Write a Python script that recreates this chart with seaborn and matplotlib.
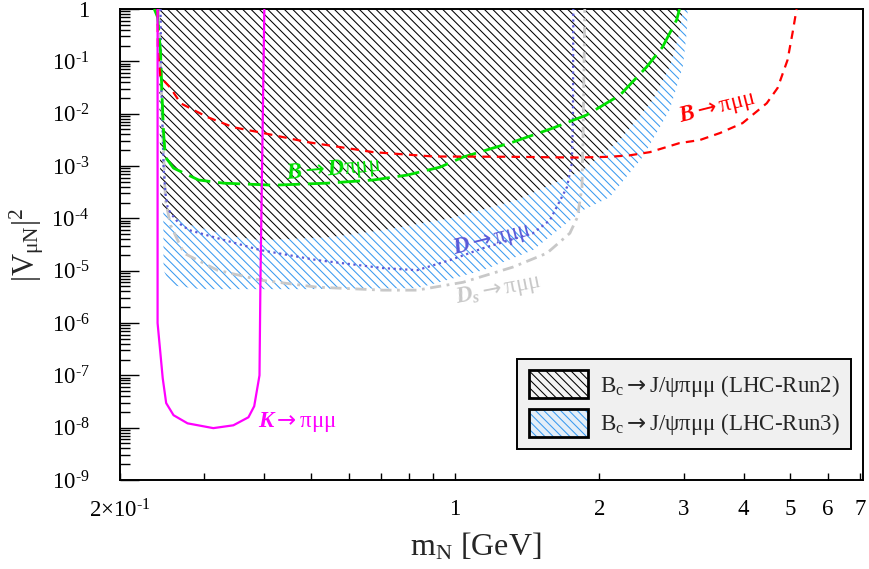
import numpy as np
import pandas as pd
import matplotlib
matplotlib.use("Agg")
import matplotlib.pyplot as plt
import seaborn as sns
from matplotlib.patches import Rectangle
from matplotlib.legend_handler import HandlerTuple
from matplotlib.ticker import FixedLocator, FixedFormatter, NullFormatter, LogLocator

# ---------------- data ----------------
# K -> pi mu mu (solid magenta)
k_x = [0.2395, 0.2395, 0.2455, 0.2496, 0.2586, 0.2766, 0.313, 0.3447, 0.3706, 0.381, 0.3908, 0.3926, 0.400]
k_y = [1.0, 1e-6, 8.8e-8, 2.95e-8, 1.73e-8, 1.21e-8, 9.8e-9, 1.11e-8, 1.58e-8, 2.57e-8, 1.0e-7, 6.6e-6, 1.0]

# B -> pi mu mu (red dashed)
b_x = [0.2395, 0.2398, 0.2428, 0.2549, 0.2675, 0.3043, 0.3447, 0.398, 0.492, 0.675, 0.90, 1.3, 1.8,
       2.1, 2.315, 2.55, 2.94, 3.24, 3.57, 3.98, 4.47, 4.71, 4.94, 5.06, 5.16]
b_y = [1.0, 0.164, 0.05, 0.031, 0.0158, 8.6e-3, 5.5e-3, 4.26e-3, 2.86e-3, 1.84e-3, 1.52e-3, 1.5e-3, 1.45e-3,
       1.5e-3, 1.6e-3, 1.84e-3, 2.74e-3, 3.13e-3, 4.26e-3, 6.6e-3, 1.58e-2, 0.031, 0.106, 0.348, 1.0]

# B -> D pi mu mu (green long dashed)
bd_x = [0.2357, 0.2395, 0.2428, 0.2449, 0.2465, 0.2487, 0.2586, 0.2917, 0.3288, 0.418, 0.5412, 0.675,
        0.794, 0.93, 1.039, 1.32, 1.60, 1.88, 2.21, 2.51, 2.71, 2.90, 2.94]
bd_y = [1.0, 0.70, 0.164, 0.018, 4.3e-3, 1.48e-3, 9.1e-4, 5.4e-4, 4.7e-4, 4.3e-4, 4.7e-4, 5.4e-4,
        6.7e-4, 9.5e-4, 1.48e-3, 2.86e-3, 5.3e-3, 9.4e-3, 2.27e-2, 7.8e-2, 0.188, 0.62, 1.0]

# D -> pi mu mu (blue dotted)
d_x = [0.2430, 0.2438, 0.2465, 0.2487, 0.2513, 0.2549, 0.2651, 0.2789, 0.3193, 0.3926, 0.5157, 0.708,
       0.833, 0.976, 1.144, 1.454, 1.577, 1.712, 1.753, 1.762, 1.765]
d_y = [1.0, 0.035, 9.5e-4, 3.0e-4, 1.64e-4, 1.26e-4, 8.1e-5, 5.95e-5, 4.18e-5, 2.47e-5, 1.59e-5, 1.12e-5,
       1.02e-5, 1.59e-5, 2.69e-5, 5.2e-5, 9.2e-5, 3.95e-4, 1.14e-3, 8.6e-3, 1.0]

# Ds -> pi mu mu (gray dash-dot)
ds_x = [0.2405, 0.2452, 0.2487, 0.2549, 0.2718, 0.3193, 0.3926, 0.5157, 0.708, 0.833, 1.039, 1.32,
        1.555, 1.736, 1.80, 1.84, 1.85, 1.865]
ds_y = [1.0, 6.6e-3, 2.23e-4, 7.4e-5, 2.16e-5, 1.02e-5, 6.6e-6, 4.84e-6, 4.24e-6, 4.24e-6, 6.0e-6, 1.17e-5,
        2.16e-5, 5.2e-5, 1.05e-4, 3.95e-4, 4.26e-3, 1.0]

# Bc -> J/psi pi mu mu sensitivity regions (lower boundaries, region extends up to |V|^2 = 1)
run2_x = [0.2405, 0.2428, 0.2465, 0.2718, 0.340, 0.3926, 0.549, 0.708, 0.976, 1.346, 1.848, 2.207,
          2.584, 2.803, 2.94, 2.986]
run2_y = [1.0, 2.78e-4, 1.43e-4, 8.1e-5, 4.57e-5, 3.83e-5, 4.37e-5, 5.95e-5, 1.0e-4, 2.23e-4, 8.35e-4,
          3.13e-3, 1.82e-2, 7.8e-2, 0.348, 1.0]
run3_x = [0.2452, 0.2465, 0.2549, 0.2942, 0.4757, 0.833, 1.144, 1.454, 1.848, 2.103, 2.463, 2.803,
          2.986, 3.043, 3.058]
run3_y = [1.0, 1.02e-5, 5.3e-6, 4.43e-6, 4.43e-6, 4.62e-6, 1.02e-5, 2.47e-5, 1.43e-4, 2.54e-4, 1.48e-3,
          1.17e-2, 7.8e-2, 0.348, 1.0]

ARROW = "\\mathsf{\\rightarrow}"
x_ticks = [0.2, 1, 2, 3, 4, 5, 6, 7]
x_tick_labels = ["2×10$^{\\text{-1}}$", "1", "2", "3", "4", "5", "6", "7"]
y_ticks = [1e-9, 1e-8, 1e-7, 1e-6, 1e-5, 1e-4, 1e-3, 1e-2, 1e-1, 1]
y_tick_labels = ["10$^{\\text{-%d}}$" % k for k in range(9, 0, -1)] + ["1"]
legend_labels = ["B$_\\mathrm{c}" + ARROW + "$J/ψπμμ (LHC-Run2)",
                 "B$_\\mathrm{c}" + ARROW + "$J/ψπμμ (LHC-Run3)"]

# ---------------- style ----------------
sns.set_style("ticks")
plt.rcParams.update({
    "font.family": ["Liberation Serif", "DejaVu Serif"],
    "mathtext.fontset": "custom",
    "mathtext.rm": "Liberation Serif",
    "mathtext.it": "Liberation Serif:italic:bold",
    "mathtext.bf": "Liberation Serif:bold",
    "mathtext.sf": "DejaVu Sans",
    "hatch.linewidth": 0.75,
    "axes.linewidth": 1.4,
})

fig = plt.figure(figsize=(8.7, 5.69), dpi=100)
ax = fig.add_axes([0.138, 0.1564, 0.854, 0.8278])
ax.set_xscale("log")
ax.set_yscale("log")
ax.set_xlim(0.2, 7.1)
ax.set_ylim(1e-9, 1)

BLUE_HATCH = "#3a9af0"
HATCH = "\\\\\\\\"

# hatched regions
ax.fill(run3_x + [run3_x[0]], run3_y + [run3_y[0]], facecolor="none", edgecolor=BLUE_HATCH,
        hatch=HATCH, linewidth=0, zorder=1)
ax.fill(run2_x + [run2_x[0]], run2_y + [run2_y[0]], facecolor="white", edgecolor="black",
        hatch=HATCH, linewidth=0, zorder=2)

# curves
sns.lineplot(x=ds_x, y=ds_y, sort=False, estimator=None, color="#c8c8c8", lw=2.0,
             linestyle=(0, (4, 2, 1, 2)), ax=ax, zorder=3)
sns.lineplot(x=d_x, y=d_y, sort=False, estimator=None, color="#5a5ad8", lw=1.6,
             linestyle=(0, (1, 1.6)), ax=ax, zorder=4)
sns.lineplot(x=bd_x, y=bd_y, sort=False, estimator=None, color="#00e000", lw=2.0,
             linestyle=(0, (8, 2.8)), ax=ax, zorder=5)
sns.lineplot(x=b_x, y=b_y, sort=False, estimator=None, color="#ff0000", lw=1.6,
             linestyle=(0, (3.8, 2.8)), ax=ax, zorder=6)
sns.lineplot(x=k_x, y=k_y, sort=False, estimator=None, color="#ff00ff", lw=1.6,
             linestyle="-", ax=ax, zorder=7)

# curve labels
lab_fs = 16.5
ax.text(3.53, 1.28e-2, "$B" + ARROW + "$πμμ", color="#ff0000", fontsize=lab_fs, rotation=14,
        ha="center", va="center", zorder=8)
ax.text(0.557, 8.35e-4, "$B" + ARROW + "D$πμμ", color="#00e000", fontsize=lab_fs, rotation=5,
        ha="center", va="center", zorder=8)
ax.text(1.194, 3.83e-5, "$D" + ARROW + "$πμμ", color="#5a5ad8", fontsize=lab_fs, rotation=14,
        ha="center", va="center", zorder=8)
ax.text(1.229, 4.24e-6, "$D_s" + ARROW + "$πμμ", color="#c8c8c8", fontsize=lab_fs, rotation=11,
        ha="center", va="center", zorder=8)
ax.text(0.469, 1.27e-8, "$K" + ARROW + "$πμμ", color="#ff00ff", fontsize=lab_fs, rotation=0,
        ha="center", va="center", zorder=8)

# ticks
ax.xaxis.set_major_locator(FixedLocator(x_ticks))
ax.xaxis.set_major_formatter(FixedFormatter(x_tick_labels))
ax.xaxis.set_minor_locator(FixedLocator([0.3, 0.4, 0.5, 0.6, 0.7, 0.8, 0.9]))
ax.xaxis.set_minor_formatter(NullFormatter())
ax.yaxis.set_major_locator(FixedLocator(y_ticks))
ax.yaxis.set_major_formatter(FixedFormatter(y_tick_labels))
ax.yaxis.set_minor_locator(LogLocator(base=10, subs=np.arange(2, 10), numticks=30))
ax.yaxis.set_minor_formatter(NullFormatter())
ax.tick_params(axis="both", which="both", direction="in", top=False, right=False,
               labelsize=16.5, width=1.0, colors="black")
ax.tick_params(axis="y", which="major", length=14, pad=22)
ax.tick_params(axis="y", which="minor", length=7)
ax.tick_params(axis="x", which="both", length=5, pad=14)

for s in ax.spines.values():
    s.set_visible(True)
    s.set_linewidth(1.4)
    s.set_color("black")

ax.set_xlabel("m$_\\mathrm{N}$ [GeV]", fontsize=23)
ax.xaxis.set_label_coords(0.478, -0.108)
ax.set_ylabel("$|\\mathrm{V}_{\\mathrm{μN}}|^{2}$", fontsize=22)
ax.yaxis.set_label_coords(-0.100, 0.5)

# legend
h2 = Rectangle((0, 0), 1, 1, facecolor="#f4f4f4", edgecolor="black", hatch=HATCH, linewidth=2)
h3a = Rectangle((0, 0), 1, 1, facecolor="#e4eef8", edgecolor=BLUE_HATCH, hatch=HATCH, linewidth=0)
h3b = Rectangle((0, 0), 1, 1, facecolor="none", edgecolor="black", linewidth=2)
leg = ax.legend([h2, (h3a, h3b)], legend_labels, handler_map={tuple: HandlerTuple(ndivide=1, pad=0)},
                loc="lower right", bbox_to_anchor=(0.984, 0.066), borderaxespad=0,
                fontsize=16.5, handlelength=2.6, handleheight=1.5, handletextpad=0.5,
                labelspacing=0.45, borderpad=0.5, fancybox=False, framealpha=1, frameon=True)
leg.get_frame().set_facecolor("#f0f0f0")
leg.get_frame().set_edgecolor("black")
leg.get_frame().set_linewidth(1.4)
leg.set_zorder(10)

fig.savefig("out.png", dpi=100)
